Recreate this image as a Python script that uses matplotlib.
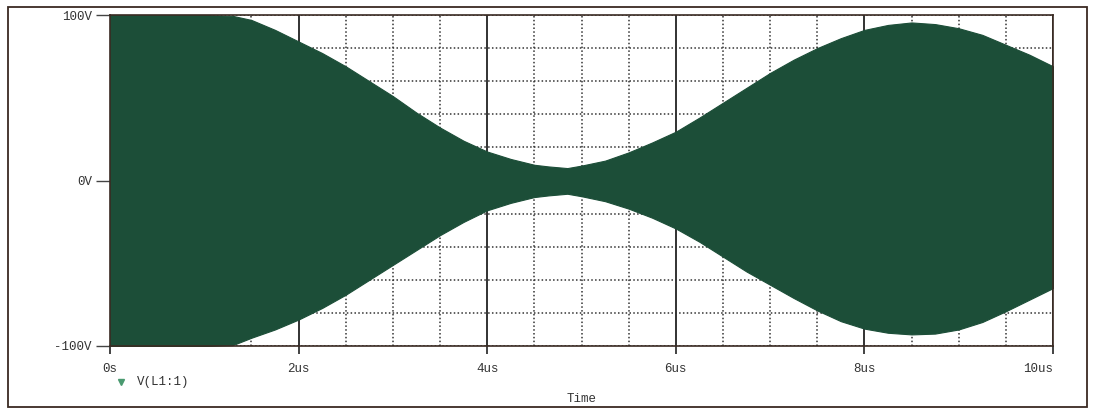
import matplotlib
matplotlib.use("Agg")
import matplotlib.pyplot as plt
from matplotlib.patches import Rectangle
from matplotlib.lines import Line2D

# envelope of V(L1:1) (time in us, volts)
t_us = [0, 0.5, 1.0, 1.3, 1.5, 1.75, 2.0, 2.25, 2.5, 2.75, 3.0, 3.25, 3.5,
        3.75, 4.0, 4.25, 4.5, 4.65, 4.85, 5.0, 5.25, 5.5, 5.75, 6.0, 6.25,
        6.5, 6.75, 7.0, 7.25, 7.5, 7.75, 8.0, 8.25, 8.5, 8.75, 9.0, 9.25,
        9.5, 9.75, 10.0]
v_top = [100, 100, 100, 99.5, 97, 91, 84, 77, 69, 60, 51, 41, 32,
         24, 17.5, 13, 9.5, 8.5, 7.5, 9, 12, 17, 23, 29.5, 38,
         47, 56, 65, 73, 80, 86, 91, 94, 95.5, 94.5, 92, 88,
         82, 76, 69]
v_bot = [-100, -100, -100, -99.5, -95, -90, -84, -77, -69, -60, -51, -42, -33,
         -25, -18, -13.5, -10, -9, -8, -9.5, -12.5, -17, -22.5, -29, -37,
         -46, -55, -63, -71, -78.5, -85, -89.5, -92, -93, -92.5, -90, -85.5,
         -79, -72, -65]

x_ticks = [0, 2, 4, 6, 8, 10]
x_labels = ['0s', '2us', '4us', '6us', '8us', '10us']
y_ticks = [-100, 0, 100]
y_labels = ['-100V', '0V', '100V']

green = '#1c4e38'
ink = '#333333'
edge = '#3a2a22'
mono = 'Liberation Mono'

W, H = 1093, 408
fig = plt.figure(figsize=(W / 100, H / 100), dpi=100)
fig.patch.set_facecolor('white')
ax = fig.add_axes([110 / W, 1 - 346 / H, (1053 - 110) / W, (346 - 15) / H])

ax.fill_between(t_us, v_bot, v_top, color=green, lw=0.8, edgecolor=green, zorder=2)

ax.set_xlim(0, 10)
ax.set_ylim(-100, 100)
ax.set_xticks(x_ticks)
ax.set_xticklabels(x_labels, fontfamily=mono, fontsize=9, color=ink)
ax.set_xticks([i * 0.5 for i in range(21)], minor=True)
ax.set_yticks(y_ticks)
ax.set_yticklabels(y_labels, fontfamily=mono, fontsize=9, color=ink)
ax.set_yticks(range(-100, 101, 20), minor=True)
ax.get_xticklabels()[-1].set_horizontalalignment('right')

ax.tick_params(axis='x', which='major', length=6, width=1.2, color='#222222', pad=6)
ax.tick_params(axis='y', which='major', length=10, width=1.0, color='#444444', pad=3)
ax.tick_params(which='minor', length=0)

ax.set_axisbelow(True)
ax.xaxis.grid(True, which='major', ls='-', color='#222222', lw=1.3)
ax.xaxis.grid(True, which='minor', ls=(0, (1, 1.5)), color='#333333', lw=1.1)
ax.yaxis.grid(True, which='both', ls=(0, (1, 1.5)), color='#333333', lw=1.1)

for s in ax.spines.values():
    s.set_color(edge)
    s.set_linewidth(1.2)

ax.set_xlabel('Time', fontfamily=mono, fontsize=9, color=ink, labelpad=13)

# legend entry below the axis
fig.add_artist(Line2D([121 / W], [1 - 382 / H], marker='v', ms=5,
                      color='#4a9a70', lw=0, transform=fig.transFigure))
fig.text(137 / W, 1 - 382 / H, 'V(L1:1)', fontfamily=mono, fontsize=9,
         color=ink, va='center', ha='left')

# outer frame
fig.add_artist(Rectangle((8 / W, 1 / H), (1087 - 8) / W, (407 - 7) / H,
                         transform=fig.transFigure, fill=False,
                         edgecolor=edge, lw=1.3))

fig.savefig('out.png', dpi=100, facecolor='white')
